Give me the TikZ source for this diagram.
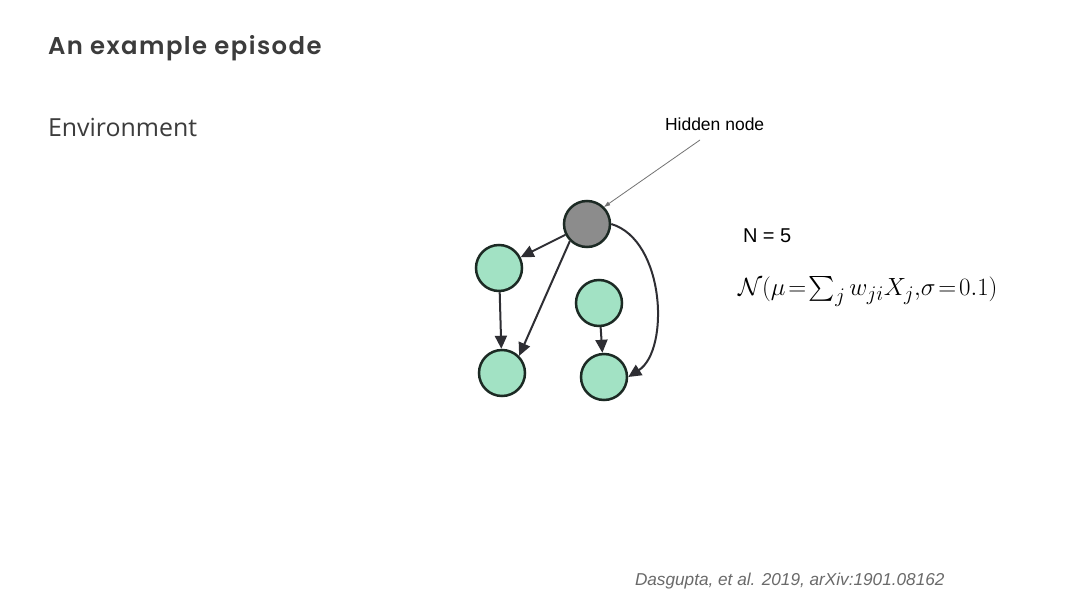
\documentclass[tikz,border=0pt]{standalone}
\usepackage{amsmath}
\usepackage{fontspec}
\setmainfont{Liberation Sans}
\newfontfamily\titlefont{Poppins SemiBold}[LetterSpace=6]
\newfontfamily\envfont{Open Sans}
\usetikzlibrary{arrows.meta}
\definecolor{nodegreen}{HTML}{A2E2C4}
\definecolor{nodegray}{HTML}{8C8C8C}
\definecolor{edgedark}{HTML}{2E2E33}
\definecolor{borderdark}{HTML}{1C2A24}
\definecolor{titlegray}{HTML}{3C3C3C}
\definecolor{citegray}{HTML}{6A6A6A}
\begin{document}
\begin{tikzpicture}[x=1pt,y=-1pt,
  gnode/.style={circle,draw=borderdark,line width=2.5pt,fill=nodegreen,minimum size=46pt,inner sep=0pt},
  hnode/.style={circle,draw=borderdark,line width=2.5pt,fill=nodegray,minimum size=46pt,inner sep=0pt},
  edge/.style={draw=edgedark,line width=2pt,-{Triangle[length=13pt,width=12pt]}},
  txt/.style={anchor=base west,inner sep=0pt,outer sep=0pt}]
\useasboundingbox (0,0) rectangle (1080,608);
\fill[white] (0,0) rectangle (1080,608);
% texts
\node[txt,text=titlegray] (title) at (48,54) {\titlefont\fontsize{24.3}{28}\selectfont An example episode};
\node[txt,text=titlegray] (env) at (48,136) {\envfont\fontsize{24.9}{29}\selectfont Environment};
\node[txt] (hl) at (665,130) {\fontsize{17.5}{21}\selectfont Hidden node};
\node[txt] (n5) at (743,242) {\fontsize{20}{24}\selectfont N = 5};
\node[txt] (eq) at (738,295) {\fontsize{28.6}{34}\selectfont \thickmuskip=2mu $\mathcal{N}(\mu=\sum_j w_{ji}X_j{,}\sigma=0.1)$};
\node[txt,text=citegray] (cite) at (635,585) {\fontsize{17.2}{20}\selectfont\itshape Dasgupta, et al. 2019, arXiv:1901.08162};
% graph nodes
\node[hnode] (h) at (587,224) {};
\node[gnode] (a) at (499,268) {};
\node[gnode] (b) at (599,303) {};
\node[gnode] (c) at (502,373) {};
\node[gnode] (d) at (604,377) {};
\coordinate (hlend) at (700,140);
% edges
\draw[draw=gray!90!black,line width=0.8pt,-{Triangle[length=6pt,width=4pt]}] (hlend) -- (h.north east);
\draw[edge] (h) -- (a);
\draw[edge] (a) -- (c);
\draw[edge] (h.south west) -- (c.north east);
\draw[edge] (b) -- (d);
\draw[edge] (h.east) .. controls (665,240) and (670,350) .. (d.east);
\end{tikzpicture}
\end{document}
